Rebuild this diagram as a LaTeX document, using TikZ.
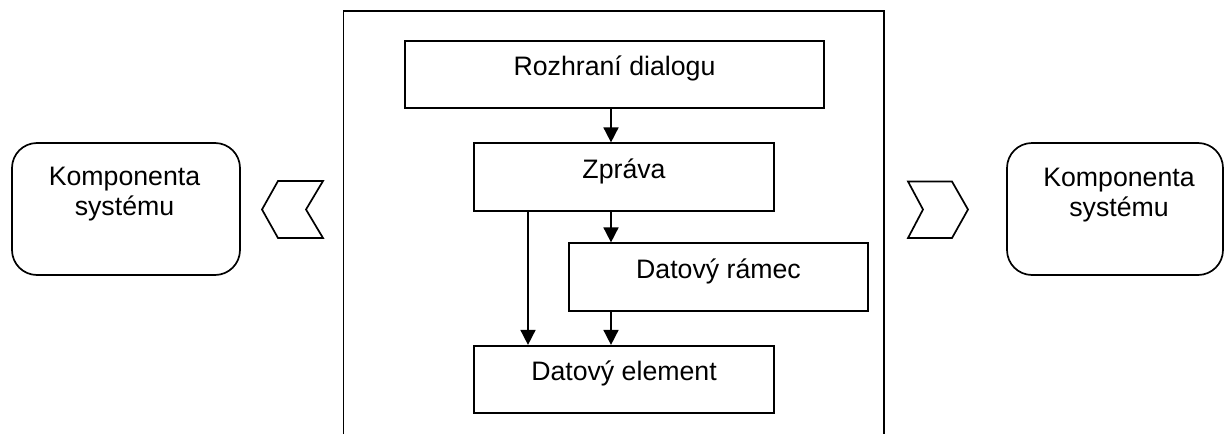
\documentclass[tikz,border=0pt]{standalone}
\usepackage{fontspec}
\setmainfont{Liberation Sans}
\usetikzlibrary{arrows.meta}
\begin{document}
\begin{tikzpicture}[x=1pt,y=-1pt,
  every node/.style={font=\fontsize{26.7}{30.7}\selectfont},
  ln/.style={line width=1.7pt},
  box/.style={draw, ln, inner sep=0pt, minimum height=67.5pt, text height=35pt, text depth=32.5pt},
  comp/.style={draw, ln, rounded corners=25pt, inner sep=0pt, minimum width=228pt, minimum height=132pt},
  lbl/.style={anchor=base, align=center, inner sep=0pt},
  arr/.style={ln, -{Triangle[length=15pt,width=15pt]}},
  chev/.style={draw, ln, line join=miter}
]
\useasboundingbox (0,0) rectangle (1225,434);
% outer frame (open at the bottom)
\draw[ln] (343.5,434) -- (343.5,11) -- (884,11) -- (884,434);
% boxes
\node[box, minimum width=419pt] (roz) at (614.5,74.5) {Rozhraní dialogu};
\node[box, minimum width=300pt] (zpr) at (624,177) {Zpráva};
\node[box, minimum width=299pt] (ram) at (718.5,277) {Datový rámec};
\node[box, minimum width=300pt] (ele) at (624,379.5) {Datový element};
% side components
\node[comp] (kl) at (126,209) {};
\node[lbl] (klt) at (124.5,215.7) {Komponenta\\systému};
\node[comp, minimum width=216pt] (kr) at (1115,209) {};
\node[lbl] (krt) at (1119,216.7) {Komponenta\\systému};
% chevrons
\draw[chev] (262,209.5) -- (278,181) -- (323,181) -- (306,209.5) -- (323,238) -- (278,238) -- cycle;
\draw[chev] (908,181.5) -- (952,181.5) -- (968,209.5) -- (952,238) -- (908,238) -- (923,209.5) -- cycle;
% connectors
\coordinate (xa) at (611,0);
\coordinate (xb) at (528,0);
\draw[arr] (xa |- roz.south) -- (xa |- zpr.north);
\draw[arr] (xa |- zpr.south) -- (xa |- ram.north);
\draw[arr] (xa |- ram.south) -- (xa |- ele.north);
\draw[arr] (xb |- zpr.south) -- (xb |- ele.north);
\end{tikzpicture}
\end{document}
